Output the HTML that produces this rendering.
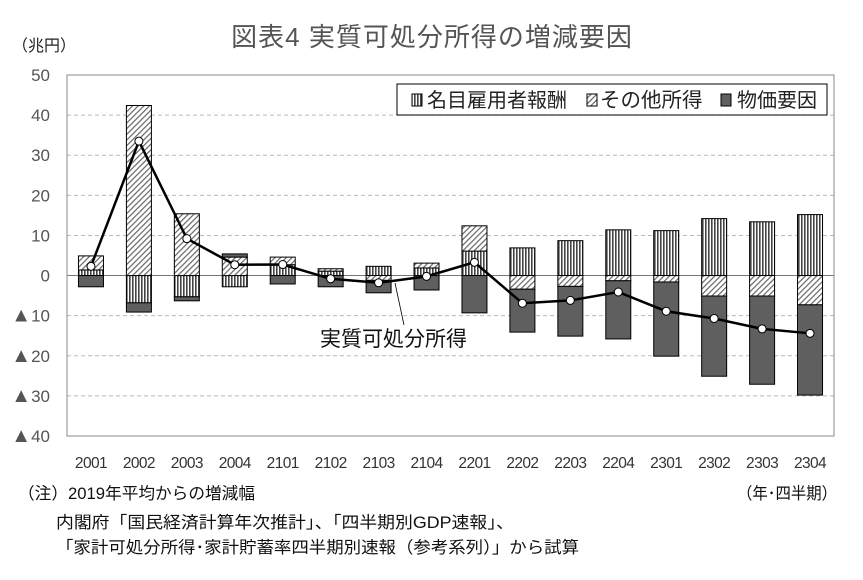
<!DOCTYPE html>
<html><head><meta charset="utf-8"><style>
body{margin:0;background:#fff;width:863px;height:575px;overflow:hidden;font-family:"Liberation Sans","Noto Sans CJK JP",sans-serif}
svg text{font-family:"Liberation Sans","Noto Sans CJK JP",sans-serif}
</style></head><body>
<svg id="c" width="863" height="575" xmlns="http://www.w3.org/2000/svg">
<defs>
<pattern id="pv" width="3" height="4" patternUnits="userSpaceOnUse"><rect width="3" height="4" fill="#fff"/><rect width="1.6" height="4" fill="#444"/></pattern>
<pattern id="pd" width="4" height="4" patternUnits="userSpaceOnUse" patternTransform="rotate(45)"><rect width="4" height="4" fill="#fff"/><rect width="1.2" height="4" fill="#666"/></pattern>
</defs>
<text x="432" y="46" text-anchor="middle" font-size="26" letter-spacing="1" fill="#555">図表4  実質可処分所得の増減要因</text>
<text x="12" y="51" font-size="16" fill="#222">（兆円）</text>
<g id="grid"></g><g id="bars"></g><g id="line"></g>
<rect x="67" y="75" width="767" height="361" fill="none" stroke="#888"/>
<g>
<rect x="397" y="84" width="430" height="31" fill="#fff" stroke="#000"/>
<rect x="412" y="94" width="10" height="12" fill="url(#pv)" stroke="#000"/>
<text x="427" y="107" font-size="20" fill="#222">名目雇用者報酬</text>
<rect x="587" y="94" width="10" height="12" fill="url(#pd)" stroke="#000"/>
<text x="600" y="107" font-size="20.5" fill="#222">その他所得</text>
<rect x="721" y="94" width="10" height="12" fill="#5f5f5f" stroke="#000"/>
<text x="737" y="107" font-size="20" fill="#222">物価要因</text>
</g>
<line x1="395" y1="283" x2="404" y2="325" stroke="#000" stroke-width="0.8"/>
<text x="320" y="346" font-size="21" fill="#111">実質可処分所得</text>
<g id="xt"></g><g id="yt"></g>
<text x="18" y="499" font-size="16.5" fill="#111" textLength="237" lengthAdjust="spacingAndGlyphs">（注）2019年平均からの増減幅</text>
<text x="737" y="499" font-size="16.5" fill="#111" textLength="100" lengthAdjust="spacingAndGlyphs">（年･四半期）</text>
<text x="56" y="528" font-size="16.5" fill="#111" textLength="458" lengthAdjust="spacingAndGlyphs">内閣府「国民経済計算年次推計」、「四半期別GDP速報」、</text>
<text x="56" y="553" font-size="16.5" fill="#111" textLength="523" lengthAdjust="spacingAndGlyphs">「家計可処分所得･家計貯蓄率四半期別速報（参考系列）」から試算</text>
</svg>
<script>
const categories=["2001","2002","2003","2004","2101","2102","2103","2104","2201","2202","2203","2204","2301","2302","2303","2304"];
const compensation=[1.4,-6.8,-5.3,-2.8,2.7,1.1,2.3,1.9,6.1,6.9,8.7,11.4,11.2,14.2,13.4,15.2];
const otherIncome=[3.5,42.4,15.4,4.6,1.9,0.6,-1.2,1.2,6.3,-3.4,-2.7,-1.3,-1.6,-5.1,-5.1,-7.3];
const priceFactor=[-2.8,-2.3,-1.0,0.8,-2.1,-2.8,-3.1,-3.6,-9.3,-10.7,-12.4,-14.5,-18.5,-20.0,-22.0,-22.5];
const realIncome=[2.3,33.5,9.2,2.7,2.75,-0.8,-1.8,-0.2,3.3,-6.9,-6.2,-4.1,-8.9,-10.7,-13.3,-14.4];
const yTicks=[50,40,30,20,10,0,-10,-20,-30,-40];
const NS="http://www.w3.org/2000/svg";
const L=67,R=834,T=75,B=436,ymax=50,ymin=-40;
const y=v=>T+(ymax-v)*(B-T)/(ymax-ymin);
const bw=(R-L)/categories.length;
const x=i=>L+bw*(i+0.5);
function mk(tag,attrs,parent){const e=document.createElementNS(NS,tag);for(const k in attrs)e.setAttribute(k,attrs[k]);document.getElementById(parent).appendChild(e);return e;}
yTicks.forEach(t=>{
  if(t!==50&&t!==-40&&t!==0){const g=mk('line',{x1:L,x2:R,y1:y(t),y2:y(t),stroke:'#bbb','stroke-dasharray':'4,3'},'grid');
  
  }
  const tx=mk('text',{x:50,y:y(t)+6,'text-anchor':'end','font-size':17,fill:'#555'},'yt');
  if(t<0){const s=document.createElementNS(NS,'tspan');s.setAttribute('font-size','20');s.textContent='▲';tx.appendChild(s);tx.appendChild(document.createTextNode(String(-t)));}
  else tx.textContent=String(t);
  
  
});
const z=mk('line',{x1:L,x2:R,y1:y(0),y2:y(0),stroke:'#777'},'grid');


const series=[[compensation,'url(#pv)','bar-compensation'],[otherIncome,'url(#pd)','bar-other-income'],[priceFactor,'#5f5f5f','bar-price-factor']];
categories.forEach((c,i)=>{
  let pos=0,neg=0;
  series.forEach(([arr,fill,name])=>{
    const v=arr[i];let a,b;
    if(v>=0){a=pos;b=pos+v;pos=b;}else{a=neg;b=neg+v;neg=b;}
    const r=mk('rect',{x:x(i)-12.5,width:25,y:Math.min(y(a),y(b)),height:Math.abs(y(a)-y(b)),fill:fill,stroke:'#000','stroke-width':1},'bars');
    
    
  });
  const t=mk('text',{x:x(i),y:468,'text-anchor':'middle','font-size':15.5,fill:'#333','letter-spacing':'-0.6'},'xt');
  t.textContent=c;
  
  
});
const p=mk('polyline',{points:realIncome.map((v,i)=>x(i)+','+y(v)).join(' '),fill:'none',stroke:'#000','stroke-width':2.5},'line');


realIncome.forEach((v,i)=>{
  const m=mk('circle',{cx:x(i),cy:y(v),r:4,fill:'#fff',stroke:'#000','stroke-width':1},'line');
  
  
});
</script>
</body></html>
